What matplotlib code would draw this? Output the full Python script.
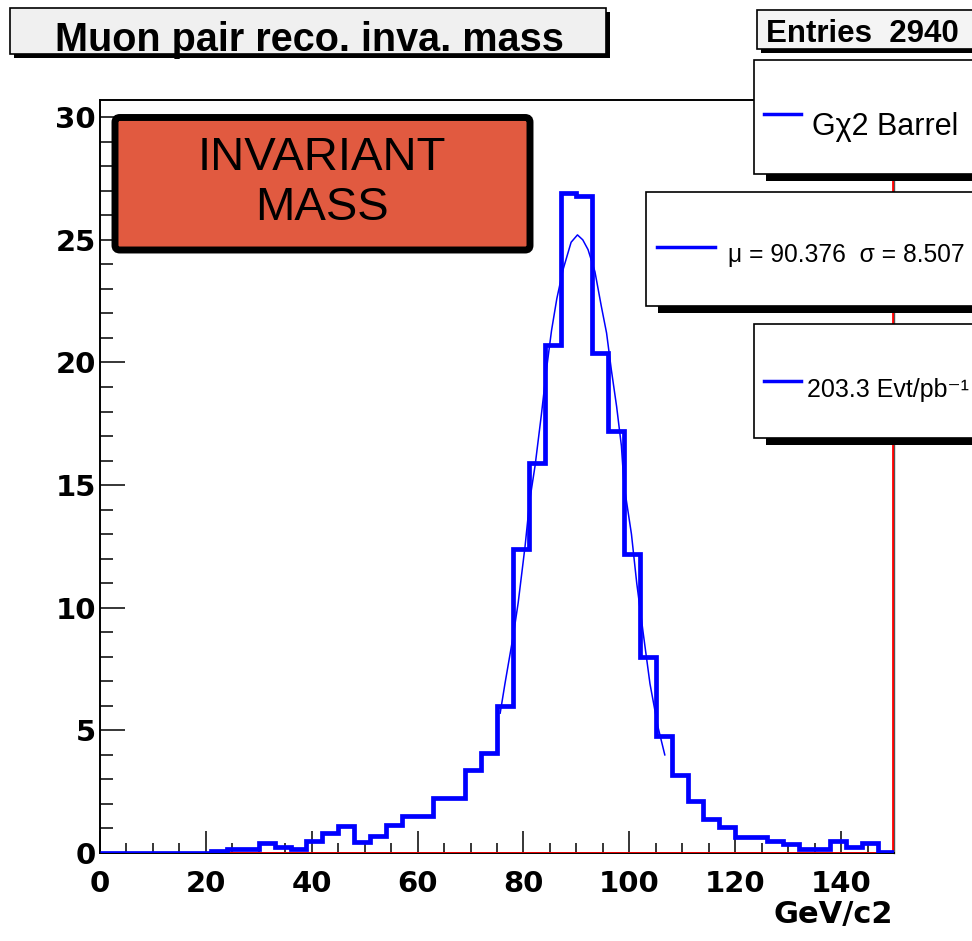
"""Muon pair reconstructed invariant mass histogram with Gaussian fit."""

import matplotlib
matplotlib.use("Agg")
import matplotlib.pyplot as plt
import numpy as np
from matplotlib.patches import Rectangle, FancyBboxPatch
from matplotlib.ticker import MultipleLocator

# Histogram contents (3 GeV bins from 0 to 150)
bin_width = 3
counts = [
    0, 0, 0, 0, 0, 0, 0, 0.10, 0.18, 0.18,
    0.41, 0.25, 0.16, 0.50, 0.82, 1.09, 0.45, 0.68, 1.16, 1.50,
    1.50, 2.23, 2.23, 3.37, 4.07, 6.00, 12.4, 15.9, 20.7, 26.9,
    26.8, 20.4, 17.2, 12.2, 8.00, 4.75, 3.18, 2.13, 1.40, 1.08,
    0.67, 0.67, 0.48, 0.36, 0.16, 0.16, 0.48, 0.25, 0.42, 0.03,
]

# Fit curve
fit_x = [75.6, 76.5, 78.1, 79.0, 80.3, 81.2, 82.2, 83.4, 84.4, 85.3,
         86.3, 87.5, 89.0, 90.2, 91.2, 92.2, 93.5, 94.7, 95.7, 96.6,
         97.6, 98.5, 99.0, 100.4, 101.4, 102.6, 103.9, 105.4, 106.7]
fit_y = [5.7, 6.9, 8.9, 10.2, 12.5, 14.4, 15.8, 17.9, 19.8, 21.3,
         22.6, 23.8, 24.9, 25.2, 25.0, 24.6, 23.7, 22.3, 21.2, 19.7,
         18.2, 16.6, 15.0, 13.0, 11.0, 9.0, 6.9, 5.15, 4.0]

# Empty red reference histogram starts here
red_start = 24

title = "Muon pair reco. inva. mass"
entries = "Entries  2940"
legend_labels = ["G\u03c72 Barrel", "\u03bc = 90.376  \u03c3 = 8.507", "203.3 Evt/pb\u207b\u00b9"]
x_label = "GeV/c2"

W, H = 972, 941
fig = plt.figure(figsize=(W / 100, H / 100), dpi=100)
fig.patch.set_facecolor("white")


def fx(x):
    return x / W


def fy(y):
    return 1 - y / H


# Plot frame
ax = fig.add_axes([fx(100), fy(853), 794 / W, 753 / H])
edges = np.arange(0, bin_width * len(counts) + 1, bin_width)
ax.hlines(0, red_start, edges[-1], color="red", lw=2, zorder=2.6)
ax.axvline(edges[-1] - 0.2, color="red", lw=2, zorder=2.6)
ax.stairs(counts, edges, color="#0000ff", lw=3.4, zorder=3)
ax.plot(fit_x, fit_y, color="#0000ff", lw=1.1, zorder=4)

ax.set_xlim(0, 150)
ax.set_ylim(0, 30.7)
ax.xaxis.set_major_locator(MultipleLocator(20))
ax.xaxis.set_minor_locator(MultipleLocator(5))
ax.yaxis.set_major_locator(MultipleLocator(5))
ax.yaxis.set_minor_locator(MultipleLocator(1))
ax.tick_params(axis="x", which="major", direction="in", length=16, width=1.1, pad=12)
ax.tick_params(axis="x", which="minor", direction="in", length=7, width=1.1)
ax.tick_params(axis="y", which="major", direction="in", length=18, width=1.1, pad=3)
ax.tick_params(axis="y", which="minor", direction="in", length=9, width=1.1)
for lab in ax.get_xticklabels() + ax.get_yticklabels():
    lab.set_fontfamily("DejaVu Sans")
    lab.set_fontweight("bold")
    lab.set_fontsize(21)
for side in ["left", "bottom", "top", "right"]:
    ax.spines[side].set_linewidth(1.4)
    ax.spines[side].set_color("black")
ax.spines["right"].set_linewidth(1.0)
ax.spines["right"].set_color("#555555")

fig.text(fx(893), fy(915), x_label, ha="right", va="center",
         fontfamily="DejaVu Sans", fontweight="bold", fontsize=22)


def pave(x0, y0, x1, y1, dx, dy, face):
    shadow = Rectangle((fx(x0 + dx), fy(y1 + dy)), (x1 - x0) / W, (y1 - y0) / H,
                       transform=fig.transFigure, facecolor="black",
                       edgecolor="none", zorder=5)
    box = Rectangle((fx(x0), fy(y1)), (x1 - x0) / W, (y1 - y0) / H,
                    transform=fig.transFigure, facecolor=face,
                    edgecolor="black", lw=1.2, zorder=6)
    fig.add_artist(shadow)
    fig.add_artist(box)


# Title and stats panes
pave(10, 8, 606, 54, 4, 4, "#f0f0f0")
fig.text(fx(55), fy(51), title, ha="left", va="baseline",
         fontfamily="Liberation Sans", fontweight="bold", fontsize=28.5, zorder=7)
pave(757, 10, 1000, 49, 4, 4, "#f4f4f4")
fig.text(fx(766), fy(42), entries, ha="left", va="baseline",
         fontfamily="Liberation Sans", fontweight="bold", fontsize=22.5, zorder=7)

# Legend panes
legend_boxes = [(754, 60, 174), (646, 192, 306), (754, 324, 438)]
line_spans = [(764, 801, 114), (657, 715, 247), (764, 801, 381)]
text_pos = [(812, 135, 22), (728, 262, 17.7), (807, 397, 18)]
for (bx, by0, by1), (lx0, lx1, ly), (tx, ty, ts), lab in zip(
        legend_boxes, line_spans, text_pos, legend_labels):
    pave(bx, by0, 1000, by1, 12, 7, "white")
    fig.add_artist(plt.Line2D([fx(lx0), fx(lx1)], [fy(ly), fy(ly)],
                              transform=fig.transFigure, color="#0000ff",
                              lw=2.5, zorder=7))
    fig.text(fx(tx), fy(ty), lab, ha="left", va="baseline",
             fontfamily=["Liberation Sans", "DejaVu Sans"], fontsize=ts, zorder=7)

# Annotation box
note = FancyBboxPatch((fx(115), fy(250)), 415 / W, 132.5 / H,
                      boxstyle="round,pad=0,rounding_size=0.005",
                      transform=fig.transFigure, facecolor="#e15a40",
                      edgecolor="black", lw=5, zorder=8)
fig.add_artist(note)
fig.text(fx(322), fy(183), "INVARIANT\nMASS", ha="center", va="center",
         fontfamily="Liberation Sans", fontsize=34, linespacing=1.2, zorder=9)

fig.savefig("out.png", dpi=100)
